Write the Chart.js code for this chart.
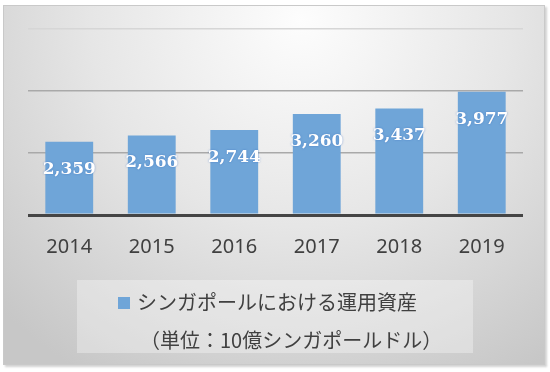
<!DOCTYPE html>
<html>
<head>
<meta charset="utf-8">
<script src="https://cdn.jsdelivr.net/npm/chart.js@4"></script>
<style>
  html, body { margin: 0; padding: 0; background: #ffffff; }
  body { width: 550px; height: 372px; position: relative; overflow: hidden; }
  #frame {
    position: absolute; left: 3px; top: 5px; width: 540px; height: 358px;
    border: 1px solid #c9c9c9;
    background: radial-gradient(ellipse 78% 115% at 55% 4%, #fdfdfd 0%, #e6e6e6 50%, #c7c7c7 100%);
    box-shadow: 2px 2px 2px rgba(0,0,0,0.18);
  }
  #c { position: absolute; left: 0; top: 0; }
  #legend {
    position: absolute; left: 77px; top: 280px; width: 396px; height: 73px;
    background: rgba(255,255,255,0.32);
    font-family: "Noto Sans CJK JP", sans-serif; font-size: 20px; color: #404040;
  }
  .lg-line { position: absolute; white-space: nowrap; line-height: 24px; height: 24px; }
  .lg-box { position: absolute; width: 12px; height: 12px; }
</style>
</head>
<body>
<div id="frame"></div>
<canvas id="c" width="550" height="372"></canvas>
<div id="legend"></div>
<script>
const categories = ["2014", "2015", "2016", "2017", "2018", "2019"];
const assetValues = [2359, 2566, 2744, 3260, 3437, 3977];
const seriesLabel = "シンガポールにおける運用資産";
const unitNote = "（単位：10億シンガポールドル）";
const yTicks = [0, 2000, 4000, 6000];

const barColor = "rgb(111,165,216)";

const valueLabels = {
  id: "valueLabels",
  afterDatasetsDraw(chart) {
    const ctx = chart.ctx;
    const meta = chart.getDatasetMeta(0);
    const data = chart.data.datasets[0].data;
    ctx.save();
    ctx.font = 'bold 17px "DejaVu Serif", serif';
    ctx.fillStyle = "#ffffff";
    ctx.textAlign = "center";
    ctx.textBaseline = "alphabetic";
    ctx.shadowColor = "rgba(60,110,190,0.7)";
    ctx.shadowBlur = 2;
    meta.data.forEach((bar, i) => {
      ctx.fillText(data[i].toLocaleString("en-US"), bar.x, bar.y + 32);
    });
    ctx.restore();
  }
};

const chart = new Chart(document.getElementById("c"), {
  type: "bar",
  data: {
    labels: categories,
    datasets: [{
      label: seriesLabel,
      data: assetValues,
      backgroundColor: barColor,
      borderWidth: 0,
      categoryPercentage: 1,
      barPercentage: 0.58
    }]
  },
  options: {
    responsive: false,
    animation: false,
    layout: { padding: { left: 28, right: 27, top: 29, bottom: 93 } },
    plugins: { legend: { display: false }, tooltip: { enabled: false } },
    scales: {
      x: {
        grid: { display: false, drawTicks: false },
        border: { display: false },
        ticks: {
          color: "#404040",
          padding: 20,
          font: { family: '"Noto Sans", sans-serif', size: 20 }
        }
      },
      y: {
        min: yTicks[0],
        max: yTicks[yTicks.length - 1],
        afterBuildTicks: (axis) => { axis.ticks = yTicks.map(v => ({ value: v })); },
        ticks: { display: false },
        border: { display: false },
        grid: {
          drawTicks: false,
          color: (c) => c.tick && c.tick.value === 0 ? "#454545" : (c.tick && c.tick.value === 6000 ? "#d6d6d6" : "#a9a9a9"),
          lineWidth: (c) => c.tick && c.tick.value === 0 ? 3 : 1.5
        }
      }
    }
  },
  plugins: [valueLabels]
});

// HTML legend built from the chart's dataset
(function buildLegend() {
  const lg = document.getElementById("legend");
  const ds = chart.data.datasets[0];
  const box = document.createElement("div");
  box.className = "lg-box";
  box.style.background = ds.backgroundColor;
  box.style.left = (118 - 77) + "px";
  box.style.top = (297 - 280) + "px";
  lg.appendChild(box);
  const l1 = document.createElement("div");
  l1.className = "lg-line";
  l1.style.left = (137 - 77) + "px";
  l1.style.top = (290 - 280) + "px";
  l1.textContent = ds.label;
  lg.appendChild(l1);
  const l2 = document.createElement("div");
  l2.className = "lg-line";
  l2.style.left = (140 - 77) + "px";
  l2.style.top = (328 - 280) + "px";
  l2.textContent = unitNote;
  lg.appendChild(l2);
})();
</script>
</body>
</html>
